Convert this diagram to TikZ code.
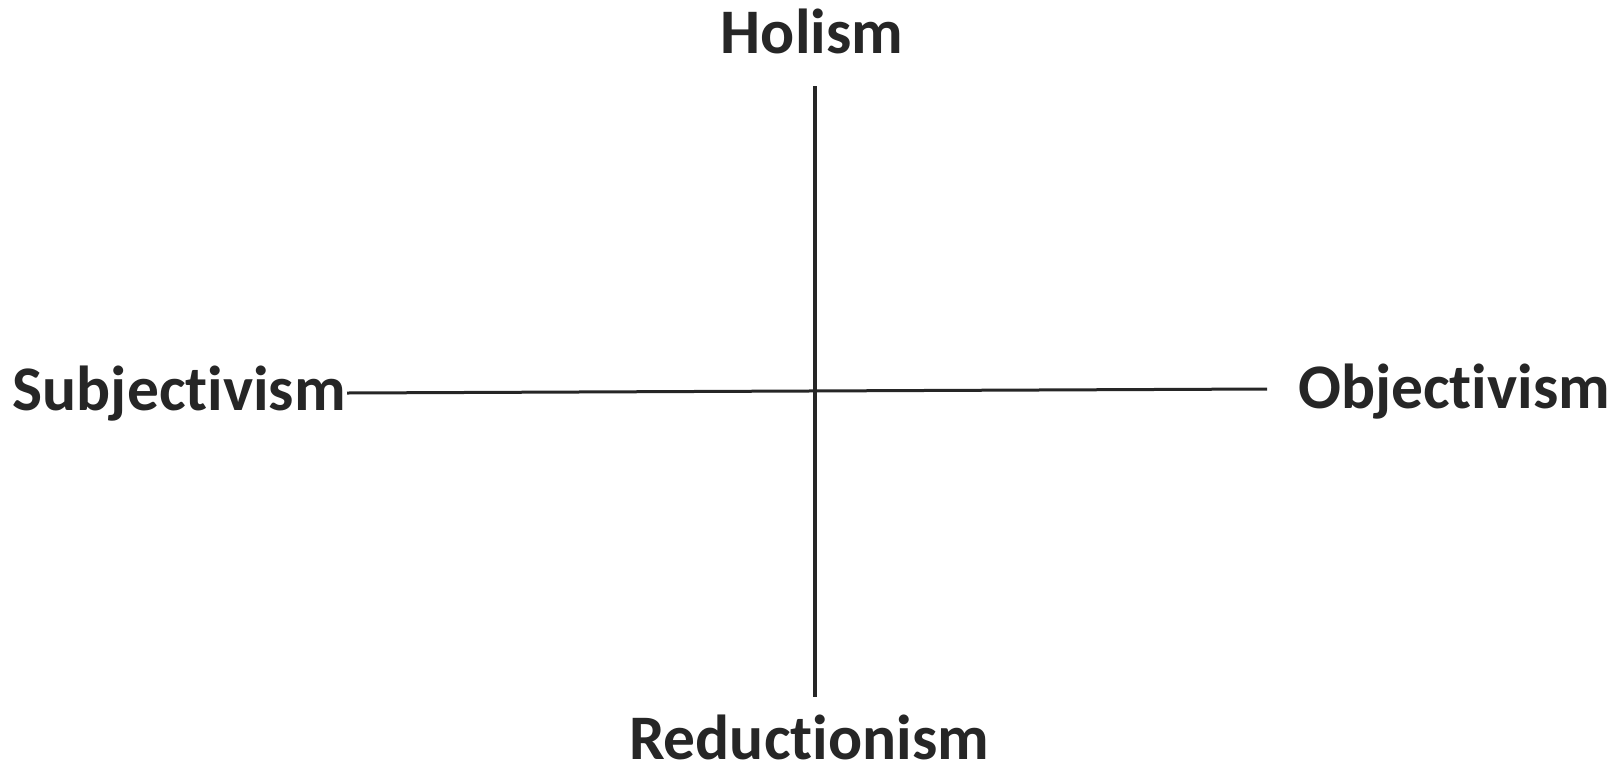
\documentclass[tikz,border=0pt]{standalone}
\usepackage{fontspec}
\setmainfont[Ligatures={NoCommon,NoRare,NoDiscretionary}]{Carlito}
\definecolor{ink}{RGB}{38,38,38}
\begin{document}
\begin{tikzpicture}[x=1pt,y=-1pt,
  lbl/.style={inner sep=0pt,font=\fontsize{63.5}{63.5}\selectfont\bfseries,text=ink},
  axis/.style={draw=ink,line width=3.6pt}]
\useasboundingbox (0,0) rectangle (1619,772);
\node[lbl,anchor=base] (hol) at (812,53) {Holism};
\node[lbl,anchor=base] (red) at (809,759) {Reductionism};
\node[lbl,anchor=base east] (sub) at (346,410) {Subjectivism};
\node[lbl,anchor=base west] (obj) at (1298,408) {Objectivism};
\coordinate (top) at (815,86);
\coordinate (bot) at (815,697);
\coordinate (left) at (347,393);
\coordinate (right) at (1267,389);
\draw[axis] (top) -- (bot);
\draw[axis,line width=3pt] (left) -- (right);
\end{tikzpicture}
\end{document}
